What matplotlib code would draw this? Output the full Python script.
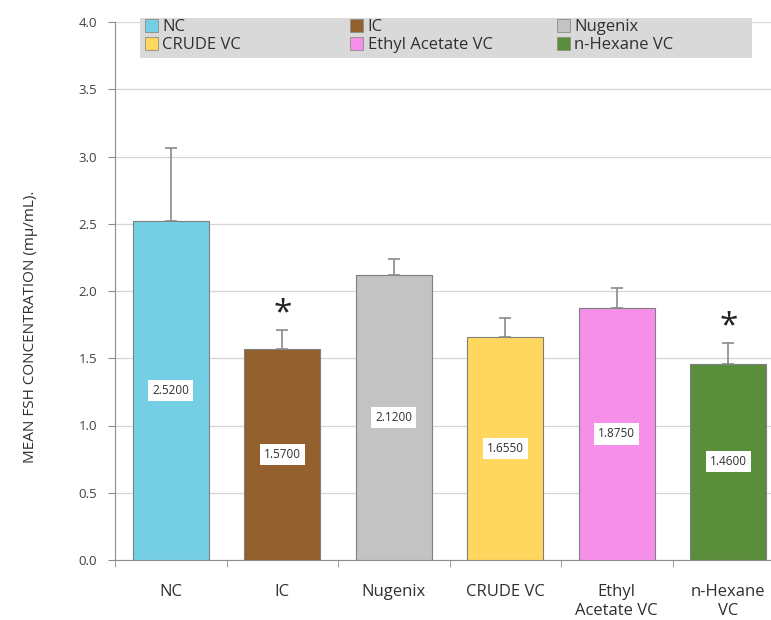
import numpy as np
import matplotlib.pyplot as plt
from matplotlib.patches import Patch, Rectangle

# data
groups = ['NC', 'IC', 'Nugenix', 'CRUDE VC', 'Ethyl Acetate VC', 'n-Hexane VC']
tick_labels = ['NC', 'IC', 'Nugenix', 'CRUDE VC', 'Ethyl\nAcetate VC', 'n-Hexane\nVC']
means = [2.52, 1.57, 2.12, 1.655, 1.875, 1.46]
errors = [0.54, 0.14, 0.12, 0.145, 0.145, 0.15]
significant = [False, True, False, False, False, True]
colors = ['#74CFE4', '#94602D', '#C3C3C3', '#FFD75E', '#F68FE9', '#5B8E3A']

plt.rcParams['font.family'] = ['Open Sans', 'DejaVu Sans']

fig = plt.figure(figsize=(7.71, 6.2), dpi=100)
ax = fig.add_axes([115/771, 1 - 560/620, 669/771, 538/620])

x = np.arange(len(groups))
ax.bar(x, means, width=0.68, color=colors, edgecolor='#7f7f7f', linewidth=0.8, zorder=3)
ax.errorbar(x, means, yerr=[np.zeros(len(errors)), errors], fmt='none',
            ecolor='#8a8a8a', elinewidth=1.2, capsize=4, capthick=1.2, zorder=4)

for xi, m in zip(x, means):
    ax.text(xi, m / 2, '{:.4f}'.format(m), ha='center', va='center', fontsize=8.5,
            color='#303030',
            bbox=dict(boxstyle='square,pad=0.35', facecolor='white', edgecolor='none'), zorder=5)

for xi, m, e, s in zip(x, means, errors, significant):
    if s:
        ax.text(xi, m + e + 0.12, '*', ha='center', va='center', fontsize=24,
                color='#222222', zorder=5)

ax.set_xlim(-0.5, len(groups) - 0.5)
ax.set_ylim(0, 4.0)
ax.set_yticks(np.arange(0, 4.01, 0.5))
ax.set_yticklabels(['{:.1f}'.format(v) for v in np.arange(0, 4.01, 0.5)], fontsize=9.5, color='#404040')
ax.set_xticks(x)
ax.set_xticklabels(tick_labels, fontsize=12, color='#303030', linespacing=1.25)
ax.set_xticks(np.arange(-0.5, len(groups), 1), minor=True)
ax.tick_params(axis='x', which='major', length=0, pad=17)
ax.tick_params(axis='x', which='minor', length=5, color='#8c8c8c')
ax.tick_params(axis='y', length=5, color='#8c8c8c', pad=8)
ax.yaxis.grid(True, color='#d6d6d6', linewidth=0.9, zorder=0)

for side in ['top', 'right']:
    ax.spines[side].set_visible(False)
for side in ['left', 'bottom']:
    ax.spines[side].set_color('#8c8c8c')

ax.set_ylabel('MEAN FSH CONCENTRATION (mμ/mL).', fontsize=11, color='#303030',
              va='center')
ax.yaxis.set_label_coords(-0.127, 0.433)

# legend: grey band with three equally spaced columns, filled row by row
fig.patches.append(Rectangle((140/771, 1 - 58/620), 612/771, 40/620,
                             transform=fig.transFigure, facecolor='#d9d9d9',
                             edgecolor='none', zorder=0))
col_x = [145, 350, 557]
for c in range(3):
    idx = [c, c + 3]
    handles = [Patch(facecolor=colors[i], edgecolor='#8c8c8c', linewidth=0.6) for i in idx]
    leg = fig.legend(handles, [groups[i] for i in idx], loc='upper left',
                     bbox_to_anchor=(col_x[c]/771, 1 - 19/620), frameon=False,
                     fontsize=12, borderpad=0, borderaxespad=0, labelspacing=0.12,
                     handlelength=0.8, handleheight=0.8, handletextpad=0.25)
    for t in leg.get_texts():
        t.set_color('#303030')

fig.savefig('out.png', dpi=100)
